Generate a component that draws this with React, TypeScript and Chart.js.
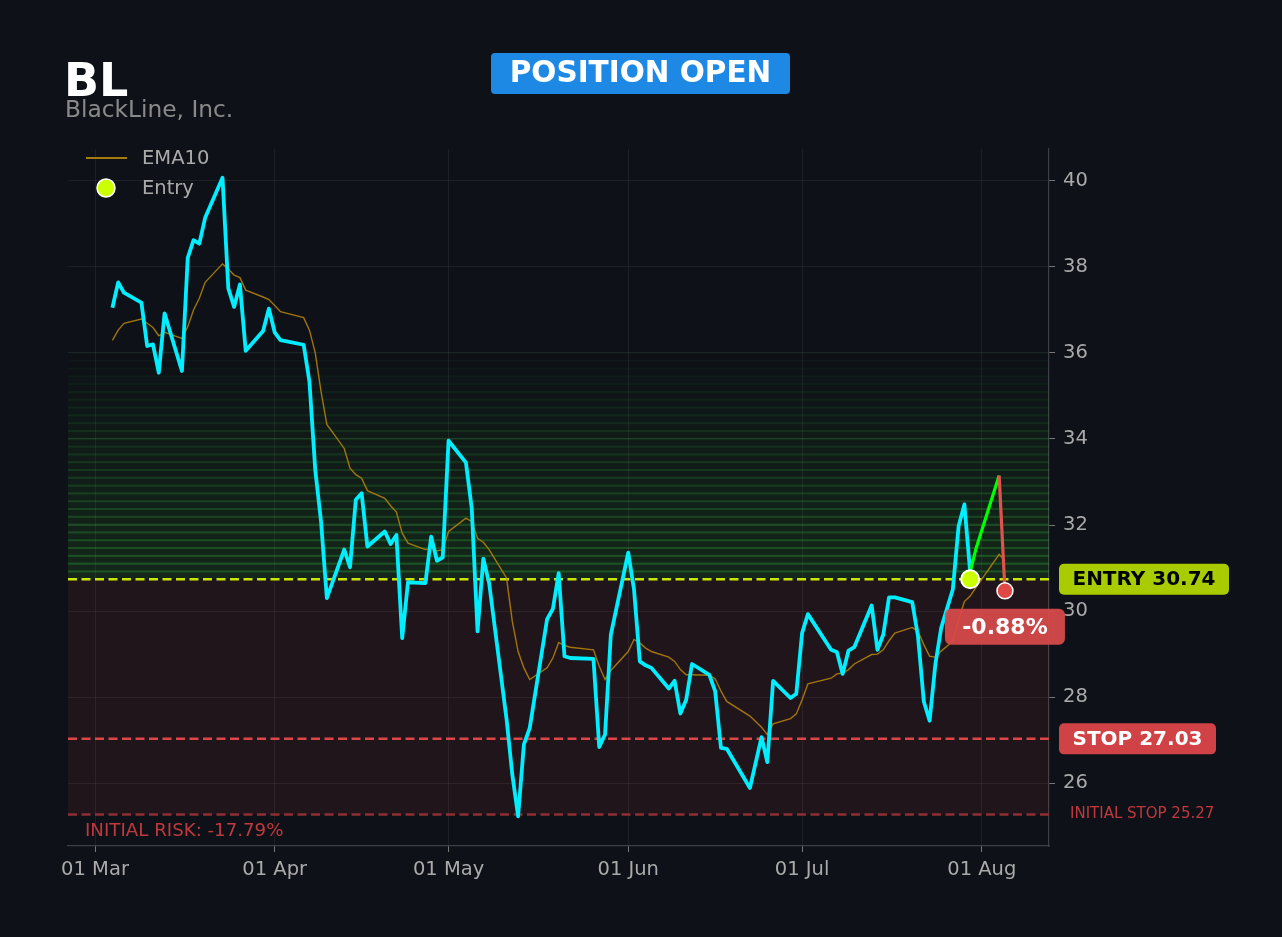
import React, { useEffect, useRef } from 'react';
import { Chart, registerables } from 'chart.js';

Chart.register(...registerables);

// ---------- data ----------
const TICKER = 'BL';
const COMPANY = 'BlackLine, Inc.';
const STATUS = 'POSITION OPEN';
const ENTRY = 30.74;
const STOP = 27.03;
const INITIAL_STOP = 25.27;
const GREEN_ZONE_TOP = 36.0;
const PNL_LABEL = '-0.88%';
const RISK_LABEL = 'INITIAL RISK: -17.79%';
const ENTRY_LABEL = 'ENTRY 30.74';
const STOP_LABEL = 'STOP 27.03';
const INITIAL_STOP_LABEL = 'INITIAL STOP 25.27';

// x values are days counted from 01 Mar
const X_TICK_DAYS = [0, 31, 61, 92, 122, 153];
const X_TICK_LABELS = ['01 Mar', '01 Apr', '01 May', '01 Jun', '01 Jul', '01 Aug'];
const Y_TICKS = [26, 28, 30, 32, 34, 36, 38, 40];

const PRICE_DAYS = [
  3, 4, 5, 8, 9, 10, 11, 12, 15, 16, 17, 18, 19, 22, 23, 24, 25, 26, 29, 30, 31, 32,
  36, 37, 38, 39, 40, 43, 44, 45, 46, 47, 50, 51, 52, 53, 54, 57, 58, 59, 60, 61,
  64, 65, 66, 67, 68, 71, 72, 73, 74, 75, 78, 79, 80, 81, 82, 86, 87, 88, 89,
  92, 93, 94, 95, 96, 99, 100, 101, 102, 103, 106, 107, 108, 109, 113, 115, 116, 117,
  120, 121, 122, 123, 127, 128, 129, 130, 131, 134, 135, 136, 137, 138, 141, 142, 143,
  144, 145, 146, 148, 149, 150, 151,
];
const PRICE_CLOSE = [
  37.05, 37.64, 37.40, 37.17, 36.16, 36.20, 35.54, 36.92, 35.58, 38.21, 38.62, 38.54, 39.14,
  40.07, 37.50, 37.07, 37.59, 36.05, 36.51, 37.03, 36.48, 36.30,
  36.19, 35.33, 33.28, 32.08, 30.30, 31.43, 31.02, 32.59, 32.74, 31.50, 31.85, 31.56, 31.77,
  29.37, 30.67, 30.65, 31.73, 31.17, 31.25, 33.96,
  33.45, 32.39, 29.53, 31.22, 30.65, 27.50, 26.20, 25.23, 26.90, 27.28, 29.81, 30.05, 30.88,
  28.95, 28.91, 28.89, 26.84, 27.13, 29.45,
  31.36, 30.50, 28.83, 28.74, 28.68, 28.20, 28.38, 27.62, 27.94, 28.77, 28.52, 28.14, 26.82,
  26.80, 25.89, 27.07, 26.49, 28.38,
  27.98, 28.08, 29.49, 29.93, 29.10, 29.05, 28.54, 29.08, 29.16, 30.13, 29.10, 29.45, 30.32,
  30.32, 30.21, 29.41, 27.90,
  27.45, 28.77, 29.61, 30.50, 31.97, 32.48, 30.90,
];

const EMA_DAYS = [...PRICE_DAYS, 152, 156, 157];
const EMA10 = [
  36.29, 36.53, 36.69, 36.79, 36.69, 36.59, 36.40, 36.48, 36.34, 36.61, 37.00, 37.27, 37.64,
  38.07, 37.95, 37.81, 37.75, 37.46, 37.30, 37.24, 37.10, 36.96,
  36.82, 36.53, 36.00, 35.10, 34.34, 33.78, 33.32, 33.17, 33.09, 32.80, 32.62, 32.45, 32.30,
  31.81, 31.58, 31.43, 31.46, 31.40, 31.43, 31.85,
  32.16, 32.08, 31.69, 31.60, 31.43, 30.77, 29.76, 29.06, 28.68, 28.41, 28.68, 28.91, 29.27,
  29.20, 29.16, 29.10, 28.72, 28.41, 28.62,
  29.06, 29.34, 29.26, 29.14, 29.06, 28.93, 28.83, 28.64, 28.52, 28.52, 28.51, 28.43, 28.14,
  27.90, 27.56, 27.30, 27.13, 27.38,
  27.50, 27.61, 27.94, 28.31, 28.44, 28.54, 28.56, 28.64, 28.77, 28.99, 29.00, 29.10, 29.31,
  29.49, 29.62, 29.53, 29.22,
  28.95, 28.93, 29.07, 29.30, 29.80, 30.22, 30.35,
  30.55, 31.32, 31.17,
];

const ENTRY_DAY = 151;
const POST_DAYS = [151, 152, 156, 157];
const POST_CLOSE = [30.90, 31.45, 33.15, 30.47];

// ---------- style ----------
const BG = '#0e1117';
const FONT = "'DejaVu Sans', sans-serif";
const CYAN = '#00eeff';
const UP = '#00ff00';
const DOWN = '#e0524c';
const ENTRY_COLOR = '#ccff00';
const ENTRY_LINE = '#c8e600';
const STOP_COLOR = '#dd4646';
const INIT_STOP_COLOR = '#8e2f33';
const TEXT_GRAY = '#aaaaaa';

const toPts = (xs: number[], ys: number[]) => xs.map((x, i) => ({ x, y: ys[i] }));

const zonesPlugin = {
  id: 'zones',
  beforeDatasetsDraw(chart: any) {
    const { ctx, chartArea: a, scales } = chart;
    const y = scales.y;
    ctx.save();
    ctx.beginPath();
    ctx.rect(a.left, a.top, a.right - a.left, a.bottom - a.top);
    ctx.clip();
    const yE = y.getPixelForValue(ENTRY);
    const yI = y.getPixelForValue(INITIAL_STOP);
    const yT = y.getPixelForValue(GREEN_ZONE_TOP);
    // risk zone
    ctx.fillStyle = 'rgba(215,60,75,0.095)';
    ctx.fillRect(a.left, yE, a.right - a.left, yI - yE);
    // green gradient bands
    const N = 29;
    const h = (yE - yT) / N;
    for (let i = 0; i < N; i++) {
      const t = 1 - i / N;
      const bottom = yE - i * h;
      ctx.fillStyle = `rgba(60,190,45,${0.13 * t})`;
      ctx.fillRect(a.left, bottom - h, a.right - a.left, h);
      ctx.fillStyle = `rgba(55,190,65,${0.3 * t + 0.02})`;
      ctx.fillRect(a.left, bottom - h - 1, a.right - a.left, 2);
    }
    // dashed levels
    const dashed = (v: number, color: string) => {
      const py = y.getPixelForValue(v);
      ctx.beginPath();
      ctx.setLineDash([9, 4.5]);
      ctx.lineWidth = 2.5;
      ctx.strokeStyle = color;
      ctx.moveTo(a.left, py);
      ctx.lineTo(a.right, py);
      ctx.stroke();
    };
    dashed(INITIAL_STOP, INIT_STOP_COLOR);
    dashed(STOP, STOP_COLOR);
    dashed(ENTRY, ENTRY_LINE);
    ctx.restore();
  },
};

const overlayPlugin = {
  id: 'overlay',
  afterDraw(chart: any) {
    const { ctx, scales } = chart;
    const x = scales.x;
    const y = scales.y;
    ctx.save();
    ctx.setLineDash([]);
    // title
    ctx.textBaseline = 'alphabetic';
    ctx.textAlign = 'left';
    ctx.fillStyle = '#ffffff';
    ctx.font = `bold 46px ${FONT}`;
    ctx.fillText(TICKER, 64, 96);
    ctx.fillStyle = '#8a8a8a';
    ctx.font = `23.3px ${FONT}`;
    ctx.fillText(COMPANY, 65, 117);

    // status badge
    ctx.fillStyle = '#1e88e5';
    ctx.beginPath();
    ctx.roundRect(491, 53, 299, 41, 4);
    ctx.fill();
    ctx.fillStyle = '#ffffff';
    ctx.font = `bold 29.5px ${FONT}`;
    ctx.textAlign = 'center';
    ctx.textBaseline = 'middle';
    ctx.fillText(STATUS, 640.5, 74.5);

    // legend
    ctx.textAlign = 'left';
    ctx.strokeStyle = 'rgba(184,134,11,0.9)';
    ctx.lineWidth = 2;
    ctx.beginPath();
    ctx.moveTo(86, 158);
    ctx.lineTo(127, 158);
    ctx.stroke();
    ctx.beginPath();
    ctx.arc(106, 188, 9, 0, Math.PI * 2);
    ctx.fillStyle = ENTRY_COLOR;
    ctx.fill();
    ctx.lineWidth = 1.5;
    ctx.strokeStyle = '#ffffff';
    ctx.stroke();
    ctx.fillStyle = TEXT_GRAY;
    ctx.font = `19.5px ${FONT}`;
    ctx.fillText('EMA10', 142, 159);
    ctx.fillText('Entry', 142, 189);

    // right badges
    const badge = (label: string, cy: number, bg: string, fg: string, w: number) => {
      ctx.fillStyle = bg;
      ctx.beginPath();
      ctx.roundRect(1059, cy - 15.5, w, 31, 5);
      ctx.fill();
      ctx.fillStyle = fg;
      ctx.font = `bold 20px ${FONT}`;
      ctx.textAlign = 'center';
      ctx.textBaseline = 'middle';
      ctx.fillText(label, 1059 + w / 2, cy + 1);
    };
    badge(ENTRY_LABEL, y.getPixelForValue(ENTRY), '#a8cc00', '#000000', 170);
    badge(STOP_LABEL, y.getPixelForValue(STOP), '#d04246', '#ffffff', 157);

    ctx.textAlign = 'left';
    ctx.textBaseline = 'middle';
    ctx.fillStyle = '#c0393d';
    ctx.font = `15px ${FONT}`;
    ctx.fillText(INITIAL_STOP_LABEL, 1070, y.getPixelForValue(INITIAL_STOP));

    ctx.font = `18.2px ${FONT}`;
    ctx.fillStyle = '#c0393d';
    ctx.fillText(RISK_LABEL, 85, 831);

    // pnl badge under the last point
    const lastX = x.getPixelForValue(POST_DAYS[POST_DAYS.length - 1]);
    const lastY = y.getPixelForValue(POST_CLOSE[POST_CLOSE.length - 1]);
    ctx.globalAlpha = 0.93;
    ctx.fillStyle = '#d94a4a';
    ctx.beginPath();
    ctx.roundRect(lastX - 60, lastY + 18, 120, 36, 6);
    ctx.fill();
    ctx.globalAlpha = 1;
    ctx.fillStyle = '#ffffff';
    ctx.font = `bold 22px ${FONT}`;
    ctx.textAlign = 'center';
    ctx.fillText(PNL_LABEL, lastX, lastY + 37);
    ctx.restore();
  },
};

function PositionChart() {
  const ref = useRef<HTMLCanvasElement | null>(null);
  useEffect(() => {
    if (!ref.current) return;
    Chart.defaults.font.family = FONT;
    const chart = new Chart(ref.current, {
      type: 'line',
      data: {
        datasets: [
          {
            label: 'Entry',
            data: [{ x: ENTRY_DAY, y: ENTRY }],
            showLine: false,
            pointRadius: 9,
            pointBackgroundColor: ENTRY_COLOR,
            pointBorderColor: '#ffffff',
            pointBorderWidth: 2,
          },
          {
            label: 'Last',
            data: [{ x: POST_DAYS[POST_DAYS.length - 1], y: POST_CLOSE[POST_CLOSE.length - 1] }],
            showLine: false,
            pointRadius: 8,
            pointBackgroundColor: '#e04848',
            pointBorderColor: '#ffffff',
            pointBorderWidth: 1.5,
          },
          {
            label: 'Since entry',
            data: toPts(POST_DAYS, POST_CLOSE),
            borderWidth: 3.2,
            pointRadius: 0,
            borderColor: UP,
            borderJoinStyle: 'round',
            segment: {
              borderColor: (c: any) => (c.p1.parsed.y >= ENTRY ? UP : DOWN),
            },
          },
          {
            label: 'Close',
            data: toPts(PRICE_DAYS, PRICE_CLOSE),
            borderColor: CYAN,
            borderWidth: 3.8,
            pointRadius: 0,
            borderJoinStyle: 'round',
          },
          {
            label: 'EMA10',
            data: toPts(EMA_DAYS, EMA10),
            borderColor: 'rgba(184,134,11,0.85)',
            borderWidth: 1.4,
            pointRadius: 0,
          },
        ],
      },
      options: {
        animation: false,
        responsive: false,
        devicePixelRatio: 1,
        layout: { padding: { left: 68, top: 149, right: 0, bottom: 0 } },
        plugins: { legend: { display: false }, tooltip: { enabled: false } },
        elements: { line: { tension: 0 } },
        scales: {
          x: {
            type: 'linear',
            min: -4.66,
            max: 164.6,
            afterFit: (s: any) => {
              s.height = 91;
            },
            afterBuildTicks: (s: any) => {
              s.ticks = X_TICK_DAYS.map((v) => ({ value: v }));
            },
            ticks: {
              color: TEXT_GRAY,
              font: { size: 19.5, family: FONT },
              padding: 6,
              maxRotation: 0,
              autoSkip: false,
              callback: (v: any) => {
                const i = X_TICK_DAYS.indexOf(Number(v));
                return i >= 0 ? X_TICK_LABELS[i] : '';
              },
            },
            grid: {
              color: 'rgba(255,255,255,0.065)',
              tickColor: '#777777',
              tickLength: 6,
            },
            border: { display: true, color: '#3c3f45', width: 1.2 },
          },
          y: {
            type: 'linear',
            position: 'right',
            min: 24.54,
            max: 40.74,
            afterFit: (s: any) => {
              s.width = 233;
            },
            afterBuildTicks: (s: any) => {
              s.ticks = Y_TICKS.map((v) => ({ value: v }));
            },
            ticks: {
              color: TEXT_GRAY,
              font: { size: 19.5, family: FONT },
              padding: 8,
              callback: (v: any) => String(v),
            },
            grid: {
              color: 'rgba(255,255,255,0.065)',
              tickColor: '#777777',
              tickLength: 6,
            },
            border: { display: true, color: '#3c3f45', width: 1.2 },
          },
        },
      },
      plugins: [zonesPlugin, overlayPlugin],
    } as any);
    return () => chart.destroy();
  }, []);
  return <canvas ref={ref} width={1282} height={937} style={{ width: 1282, height: 937, display: 'block' }} />;
}

export default function App() {
  return (
    <div style={{ position: 'fixed', left: 0, top: 0, width: 1282, height: 937, background: BG, overflow: 'hidden' }}>
      <PositionChart />
    </div>
  );
}
